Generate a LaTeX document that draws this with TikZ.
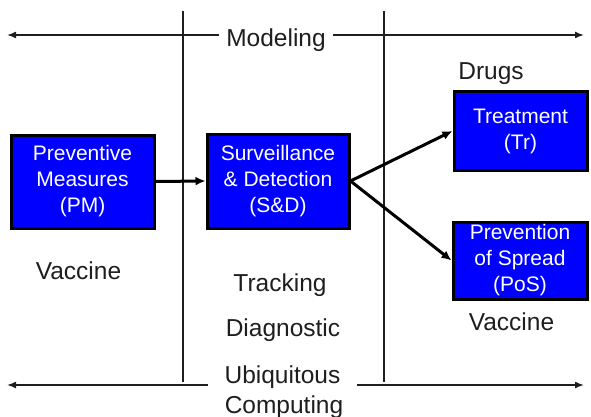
\documentclass[tikz,border=0pt]{standalone}
\usepackage{fontspec}
\setmainfont{Liberation Sans}
\usetikzlibrary{arrows.meta,shadows}
\definecolor{boxblue}{RGB}{0,0,255}
\definecolor{ink}{RGB}{30,30,30}
\tikzset{
  procbox/.style={draw=black, line width=3pt, fill=boxblue, text=white,
    align=center, inner sep=0pt,
    font=\fontsize{21}{26}\selectfont,
    drop shadow={shadow xshift=2pt, shadow yshift=-2pt, fill=gray!55, opacity=1}},
  lbl/.style={anchor=base, text=ink, inner sep=0pt, font=\fontsize{24.5}{30}\selectfont},
  axisarrow/.style={draw=ink, line width=1.5pt, -{Latex[length=9pt,width=7pt]}},
  divider/.style={draw=ink, line width=1.3pt},
  flow/.style={draw=black, line width=3pt, -{Latex[length=10pt,width=9pt]}}
}
\begin{document}
\begin{tikzpicture}[x=1pt,y=-1pt]
\useasboundingbox (0,0) rectangle (591,417);
% divider lines
\coordinate (d1t) at (183,11);
\coordinate (d1b) at (183,382);
\coordinate (d2t) at (384,11);
\coordinate (d2b) at (384,382);
\draw[divider] (d1t) -- (d1b);
\draw[divider] (d2t) -- (d2b);
% modeling axis
\coordinate (tl) at (7,35);
\coordinate (tr) at (584,35);
\node[lbl, inner xsep=7pt] (mod) at (276,47) {Modeling};
\draw[axisarrow] (mod.west |- tl) -- (tl);
\draw[axisarrow] (mod.east |- tr) -- (tr);
% ubiquitous computing axis
\coordinate (bl) at (7,385);
\coordinate (br) at (584,385);
\coordinate (ubL) at (208,385);
\coordinate (ubR) at (357,385);
\node[lbl] (ubi) at (282.5,383) {Ubiquitous};
\node[lbl] (comp) at (284,413) {Computing};
\draw[axisarrow] (ubL) -- (bl);
\draw[axisarrow] (ubR) -- (br);
% boxes
\node[procbox, minimum width=143pt, minimum height=93pt] (pm) at (82.5,181.5)
  {Preventive\\Measures\\(PM)};
\node[procbox, minimum width=142pt, minimum height=94pt] (sd) at (278,181)
  {Surveillance\\\&{} Detection\\(S\&D)};
\node[procbox, minimum width=133pt, minimum height=78pt] (tr) at (520.5,131)
  {Treatment\\(Tr)};
\node[procbox, minimum width=134pt, minimum height=77pt] (pos) at (520,260.5)
  {Prevention\\of Spread\\(PoS)};
% flows
\draw[flow] (pm.east) -- (sd.west);
\draw[flow] (sd.east) -- (tr.west);
\draw[flow] (sd.east) -- (pos.west);
% labels
\node[lbl] (drugs) at (491,80) {Drugs};
\node[lbl] (vacl) at (78.5,279) {Vaccine};
\node[lbl] (track) at (280,291) {Tracking};
\node[lbl] (diag) at (283,336) {Diagnostic};
\node[lbl] (vacr) at (511.5,330) {Vaccine};
\end{tikzpicture}
\end{document}
